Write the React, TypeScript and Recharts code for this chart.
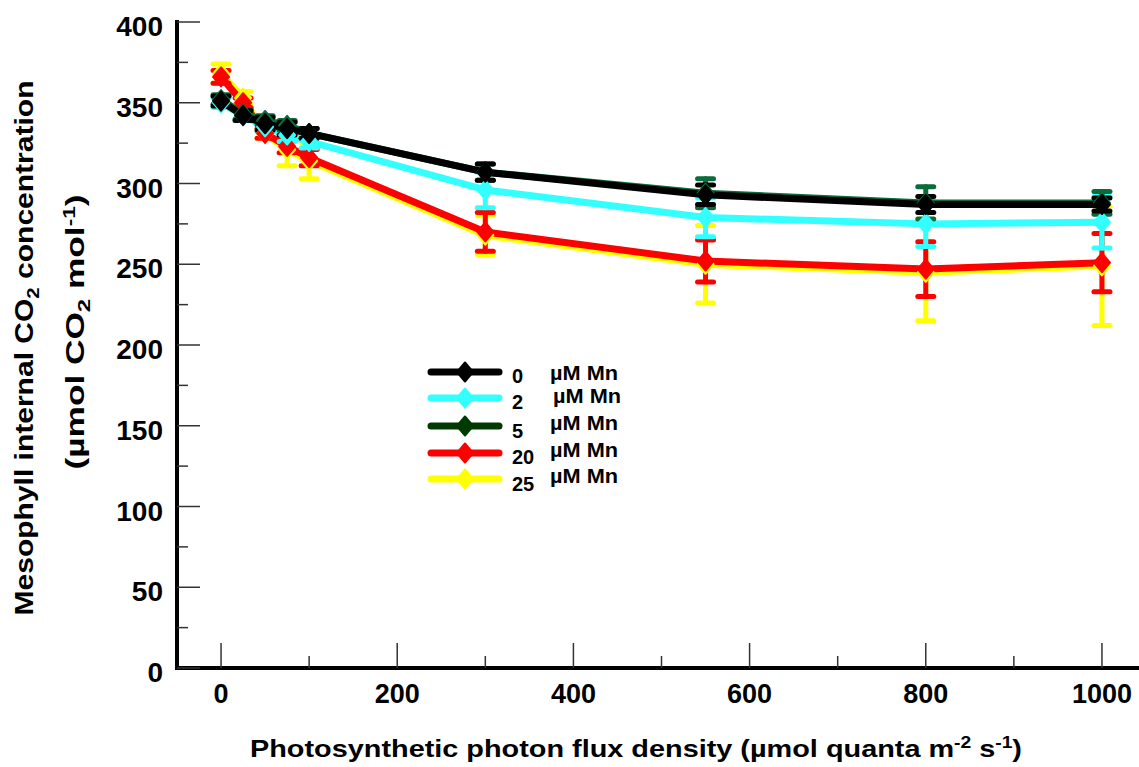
import React from 'react';
import { ComposedChart, Line, XAxis, YAxis, ErrorBar, Legend, Label } from 'recharts';

// PPFD (µmol quanta m-2 s-1)
const ppfd = [0, 25, 50, 75, 100, 300, 550, 800, 1000];

// Mesophyll internal CO2 concentration (µmol CO2 mol-1) for each Mn treatment
const mn0 = [351, 342, 337, 334, 331, 307, 293, 287, 287];
const mn0Err = [3, 3, 4, 4, 3, 5, 6, 5, 4];
const mn2 = [350, 342, 335, 330, 326, 296, 279, 275, 276];
const mn2Err = [3, 3, 3, 4, 4, 11, 12, 14, 16];
const mn5 = [352, 343, 339, 336, 331, 307, 294, 288, 288];
const mn5Err = [3, 3, 3, 3, 3, 5, 9, 10, 7];
const mn20 = [366, 350, 331, 323, 316, 270, 252, 247, 251];
const mn20Err = [4, 3, 3, 4, 5, 12, 13, 17, 18];
const mn25 = [368, 353, 331, 321, 314, 268, 250, 245, 249];
const mn25Err = [6, 4, 3, 10, 11, 12, 24, 30, 37];

const xTicks = [0, 100, 200, 300, 400, 500, 600, 700, 800, 900, 1000];
const yTicks = [0, 25, 50, 75, 100, 125, 150, 175, 200, 225, 250, 275, 300, 325, 350, 375, 400];

const legendLabels = ['0', '2', '5', '20', '25'];
const unitLabel = 'µM Mn';

const FONT = '"Liberation Sans", Arial, Helvetica, sans-serif';

const series = [
  { key: 'mn25', label: '25', color: '#FFFF00', values: mn25, errors: mn25Err },
  { key: 'mn20', label: '20', color: '#FF0000', values: mn20, errors: mn20Err },
  { key: 'mn2', label: '2', color: '#33FFFF', values: mn2, errors: mn2Err },
  { key: 'mn5', label: '5', color: '#0B6B3A', values: mn5, errors: mn5Err },
  { key: 'mn0', label: '0', color: '#000000', values: mn0, errors: mn0Err },
];

const data = ppfd.map((x, i) => {
  const row: Record<string, number> = { x };
  series.forEach((s) => {
    row[s.key] = s.values[i];
    row[s.key + 'Err'] = s.errors[i];
  });
  return row;
});

const diamondPath = (cx: number, cy: number, hw: number, hh: number) =>
  `M${cx},${cy - hh} L${cx + hw},${cy} L${cx},${cy + hh} L${cx - hw},${cy} Z`;

const makeDot = (color: string) => (p: any) => {
  if (p.cx == null || p.cy == null) return <g key={`e-${p.index}`} />;
  return (
    <path
      key={`d-${p.index}`}
      d={diamondPath(p.cx, p.cy, 8, 9.5)}
      fill={color}
      stroke={color}
      strokeWidth={2}
      strokeLinejoin="round"
    />
  );
};

const YTick = (props: any) => {
  const { x, y, payload } = props;
  const v = payload.value;
  const major = v % 50 === 0;
  const ax = x + 14;
  return (
    <g>
      <line x1={ax} x2={ax + (major ? 23 : 11)} y1={y} y2={y} stroke="#333" strokeWidth={1.5} />
      {major && (
        <text x={x} y={y} dy={14} textAnchor="end" fontFamily={FONT} fontWeight="bold" fontSize={28} fill="#000">
          {v}
        </text>
      )}
    </g>
  );
};

const XTick = (props: any) => {
  const { x, y, payload } = props;
  const v = payload.value;
  const major = v % 200 === 0;
  return (
    <g>
      <line x1={x} x2={x} y1={y} y2={y - (major ? 25 : 12)} stroke="#333" strokeWidth={1.5} />
      {major && (
        <text x={x} y={y + 35} textAnchor="middle" fontFamily={FONT} fontWeight="bold" fontSize={27} fill="#000">
          {v}
        </text>
      )}
    </g>
  );
};

const YTitle = () => (
  <g fontFamily={FONT} fontWeight="bold" fill="#000">
    <text
      x={33}
      y={348}
      transform="rotate(-90 33 348)"
      textAnchor="middle"
      fontSize={25}
      textLength={535}
      lengthAdjust="spacingAndGlyphs"
    >
      Mesophyll internal CO<tspan dy={6} fontSize={17}>2</tspan>
      <tspan dy={-6}> concentration</tspan>
    </text>
    <text
      x={84}
      y={332}
      transform="rotate(-90 84 332)"
      textAnchor="middle"
      fontSize={25}
      textLength={275}
      lengthAdjust="spacingAndGlyphs"
    >
      (µmol CO<tspan dy={6} fontSize={17}>2</tspan>
      <tspan dy={-6}> mol</tspan>
      <tspan dy={-9} fontSize={16}>-1</tspan>
      <tspan dy={9}>)</tspan>
    </text>
  </g>
);

const XTitle = () => (
  <text
    x={636}
    y={757}
    textAnchor="middle"
    fontFamily={FONT}
    fontWeight="bold"
    fontSize={24}
    fill="#000"
    textLength={772}
    lengthAdjust="spacingAndGlyphs"
  >
    Photosynthetic photon flux density (µmol quanta m<tspan dy={-9} fontSize={16}>-2</tspan>
    <tspan dy={9}> s</tspan>
    <tspan dy={-9} fontSize={16}>-1</tspan>
    <tspan dy={9}>)</tspan>
  </text>
);

const legendRows = [
  { label: legendLabels[0], color: '#000000', lineY: 17, numY: 28, unitX: 130, unitY: 25 },
  { label: legendLabels[1], color: '#33FFFF', lineY: 43, numY: 54, unitX: 133, unitY: 48 },
  { label: legendLabels[2], color: '#003A00', lineY: 71, numY: 83, unitX: 130, unitY: 75 },
  { label: legendLabels[3], color: '#FF0000', lineY: 98, numY: 109, unitX: 130, unitY: 102 },
  { label: legendLabels[4], color: '#FFFF00', lineY: 124, numY: 136, unitX: 130, unitY: 128 },
];

const renderLegend = () => (
  <svg width={230} height={145} style={{ display: 'block' }}>
    {legendRows.map((r) => (
      <g key={r.label}>
        <line x1={11} x2={79} y1={r.lineY} y2={r.lineY} stroke={r.color} strokeWidth={7} strokeLinecap="round" />
        <path d={diamondPath(45, r.lineY, 8, 9.5)} fill={r.color} stroke={r.color} strokeWidth={2} strokeLinejoin="round" />
        <text x={92} y={r.numY} fontFamily={FONT} fontWeight="bold" fontSize={20} fill="#000">
          {r.label}
        </text>
        <text
          x={r.unitX}
          y={r.unitY}
          fontFamily={FONT}
          fontWeight="bold"
          fontSize={20}
          fill="#000"
          textLength={68}
          lengthAdjust="spacingAndGlyphs"
        >
          {unitLabel}
        </text>
      </g>
    ))}
  </svg>
);

export default function App() {
  return (
    <div
      style={{
        position: 'absolute',
        left: 0,
        top: 0,
        width: 1139,
        height: 767,
        overflow: 'hidden',
        background: '#fff',
      }}
    >
      <ComposedChart width={1150} height={767} data={data} margin={{ top: 22, right: 4, bottom: 0, left: 0 }}>
        <XAxis
          dataKey="x"
          type="number"
          domain={[-50, 1050]}
          ticks={xTicks}
          interval={0}
          height={99}
          tickSize={0}
          tickMargin={0}
          tickLine={false}
          axisLine={{ stroke: '#000', strokeWidth: 4, strokeLinecap: 'square' }}
          tick={(p: any) => <XTick {...p} />}
        >
          <Label content={() => <XTitle />} />
        </XAxis>
        <YAxis
          type="number"
          domain={[0, 400]}
          ticks={yTicks}
          interval={0}
          width={177}
          tickSize={0}
          tickMargin={14}
          tickLine={false}
          axisLine={{ stroke: '#000', strokeWidth: 4, strokeLinecap: 'square' }}
          tick={(p: any) => <YTick {...p} />}
        >
          <Label content={() => <YTitle />} />
        </YAxis>
        <Legend
          layout="vertical"
          align="center"
          verticalAlign="middle"
          content={renderLegend}
          wrapperStyle={{ position: 'absolute', left: 420, top: 355, width: 230, height: 145 }}
        />
        {series.map((s) => (
          <Line
            key={s.key}
            dataKey={s.key}
            type="linear"
            stroke={s.color}
            strokeWidth={7}
            strokeLinejoin="round"
            dot={makeDot(s.color)}
            activeDot={false}
            isAnimationActive={false}
            legendType="none"
          >
            <ErrorBar
              dataKey={s.key + 'Err'}
              direction="y"
              width={8}
              stroke={s.color}
              strokeWidth={5}
              strokeLinecap="round"
              isAnimationActive={false}
            />
          </Line>
        ))}
      </ComposedChart>
    </div>
  );
}
